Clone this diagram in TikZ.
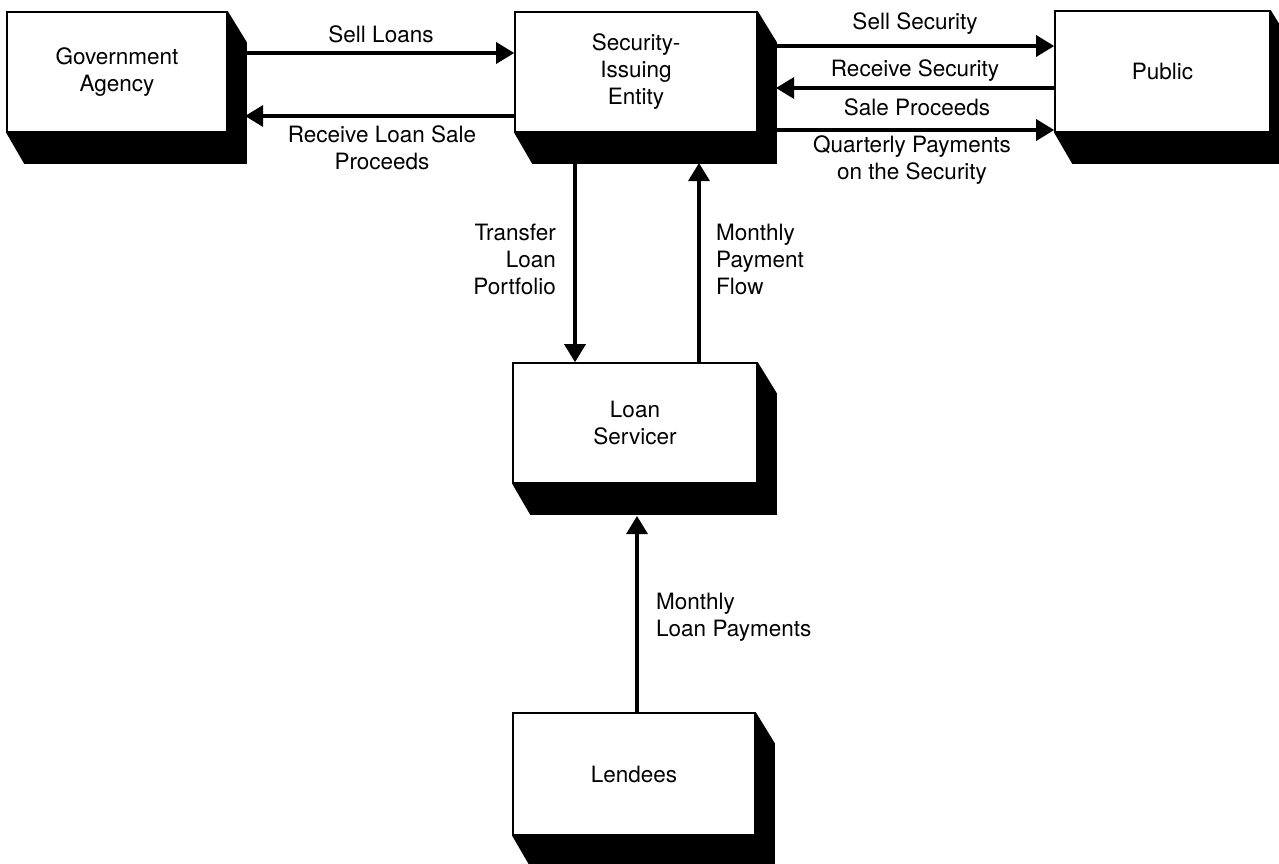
\documentclass[tikz,border=0pt]{standalone}
\usepackage{fontspec}
\setmainfont{TeX Gyre Heros}
\usetikzlibrary{arrows.meta,backgrounds}
\newcommand\lblfont{\fontsize{22.5}{27}\selectfont}
\begin{document}
\begin{tikzpicture}[x=1pt,y=-1pt,
  face/.style={draw, line width=1.6pt, fill=white, inner sep=0pt, align=center, font=\lblfont},
  arr/.style={line width=3.2pt, -{Triangle[length=18pt,width=21pt]}},
  lbl/.style={font=\lblfont, align=center, inner sep=0pt}]
\useasboundingbox (0,0) rectangle (1279,863);
% boxes
\node[face, minimum width=220pt, minimum height=120pt] (gov)  at (117,72)    {Government\\Agency};
\node[face, minimum width=242pt, minimum height=120pt] (sec)  at (636,72)    {Security-\\Issuing\\Entity};
\node[face, minimum width=215pt, minimum height=121pt] (pub)  at (1162.5,71.5) {Public};
\node[face, minimum width=244pt, minimum height=120pt] (serv) at (635,423)   {Loan\\Servicer};
\node[face, minimum width=242pt, minimum height=122pt] (lend) at (634,774)   {Lendees};
% extruded shadows
\begin{scope}[on background layer]
\foreach \n in {gov,sec,pub,serv,lend}{
  \fill (\n.south west) -- ++(18,31) -| ([shift={(19,31)}]\n.north east) -- (\n.north east) -- cycle;
}
\end{scope}
% horizontal connectors
\coordinate (sl) at (245,53);
\draw[arr] (sl) -- (sl -| sec.west);
\coordinate (rl) at (245,116);
\draw[arr] (rl -| sec.west) -- (rl);
\coordinate (ss) at (776,46);
\draw[arr] (ss) -- (ss -| pub.west);
\coordinate (rs) at (776,88);
\draw[arr] (rs -| pub.west) -- (rs);
\coordinate (qp) at (776,130);
\draw[arr] (qp) -- (qp -| pub.west);
% vertical connectors
\coordinate (tl) at (575,163);
\draw[arr] (tl) -- (tl |- serv.north);
\coordinate (mp) at (699,163);
\draw[arr] (mp |- serv.north) -- (mp);
\coordinate (ml) at (637,516);
\draw[arr] (ml |- lend.north) -- (ml);
% labels
\node[lbl] (l1) at (381,34) {Sell Loans};
\node[lbl] (l2) at (382,148) {Receive Loan Sale\\Proceeds};
\node[lbl] (l3) at (915,24) {Sell Security};
\node[lbl] (l4) at (915,71) {Receive Security};
\node[lbl] (l5) at (917,107) {Sale Proceeds};
\node[lbl] (l6) at (912,160) {Quarterly Payments\\on the Security};
\node[lbl, anchor=east, align=right] (l7) at (556,259) {Transfer\\Loan\\Portfolio};
\node[lbl, anchor=west, align=left] (l8) at (716,259) {Monthly\\Payment\\Flow};
\node[lbl, anchor=west, align=left] (l9) at (656,617) {Monthly\\Loan Payments};
\end{tikzpicture}
\end{document}
